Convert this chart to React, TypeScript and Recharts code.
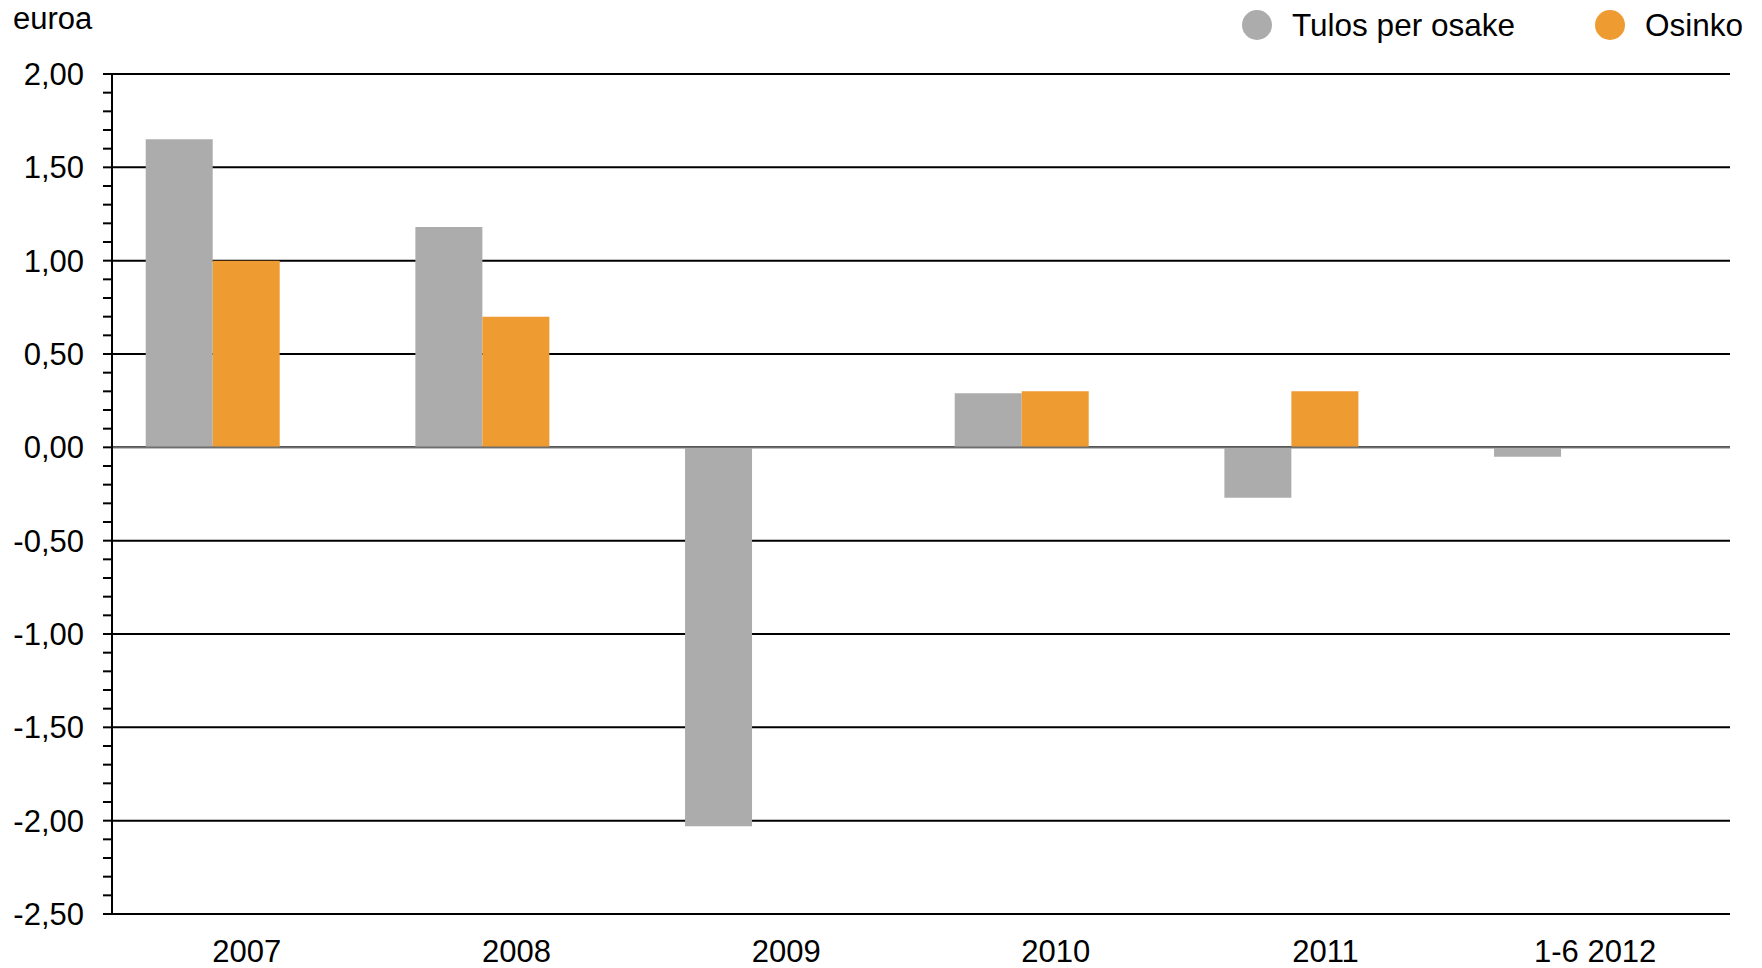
import { BarChart, Bar, XAxis, YAxis, CartesianGrid, ReferenceLine } from 'recharts';

const categories = ['2007', '2008', '2009', '2010', '2011', '1-6 2012'];
const tulosPerOsake = [1.65, 1.18, -2.03, 0.29, -0.27, -0.05];
const osinko = [1.0, 0.7, null, 0.3, 0.3, null];

const seriesNames = ['Tulos per osake', 'Osinko'];
const seriesColors = ['#ACACAC', '#EE9B31'];

const majorTicks = [2.0, 1.5, 1.0, 0.5, 0.0, -0.5, -1.0, -1.5, -2.0, -2.5];
const allTicks = [
  2.0, 1.9, 1.8, 1.7, 1.6, 1.5, 1.4, 1.3, 1.2, 1.1, 1.0, 0.9, 0.8, 0.7, 0.6, 0.5, 0.4, 0.3, 0.2, 0.1, 0.0,
  -0.1, -0.2, -0.3, -0.4, -0.5, -0.6, -0.7, -0.8, -0.9, -1.0, -1.1, -1.2, -1.3, -1.4, -1.5, -1.6, -1.7,
  -1.8, -1.9, -2.0, -2.1, -2.2, -2.3, -2.4, -2.5,
];

// the original chart leaves an empty third slot in each group, so bars sit left of centre
const data = categories.map((c, i) => ({ name: c, eps: tulosPerOsake[i], div: osinko[i], empty: null }));

const FONT = '"Liberation Sans", Arial, sans-serif';

// finnish number format: 0,50 / -1,00
const fmt = (v: number) => v.toFixed(2).replace('.', ',').replace('-0,00', '0,00');

const YTick = (props: any) => {
  const { x, y, payload } = props;
  const v = payload.value as number;
  const major = majorTicks.some((m) => Math.abs(m - v) < 1e-6);
  return (
    <g>
      <line x1={x - 9} x2={x} y1={y} y2={y} stroke="#000" strokeWidth={2} />
      {major && (
        <text x={x - 28} y={y} dy="0.355em" textAnchor="end" fontSize={31} fill="#000" fontFamily={FONT}>
          {fmt(v)}
        </text>
      )}
    </g>
  );
};

export default function App() {
  return (
    <div style={{ position: 'relative', width: 1762, height: 968, fontFamily: FONT, background: '#fff' }}>
      <style>{'body{margin:0}'}</style>
      <BarChart
        width={1762}
        height={968}
        data={data}
        margin={{ top: 74, right: 32, bottom: 0, left: 0 }}
        barCategoryGap="12.5%"
        barGap={0}
      >
        <CartesianGrid vertical={false} horizontalValues={majorTicks} stroke="#000" strokeWidth={2} />
        <XAxis
          dataKey="name"
          height={54}
          tickLine={false}
          axisLine={{ stroke: '#000', strokeWidth: 2 }}
          tickSize={0}
          tickMargin={26}
          tick={{ fontSize: 31, fill: '#000', fontFamily: FONT }}
        />
        <YAxis
          width={112}
          domain={[-2.5, 2.0]}
          ticks={allTicks}
          interval={0}
          tickLine={false}
          tickSize={0}
          tickMargin={0}
          axisLine={{ stroke: '#000', strokeWidth: 2 }}
          tick={<YTick />}
        />
        <Bar dataKey="eps" name={seriesNames[0]} fill={seriesColors[0]} isAnimationActive={false} />
        <Bar dataKey="div" name={seriesNames[1]} fill={seriesColors[1]} isAnimationActive={false} />
        <Bar dataKey="empty" fill="none" isAnimationActive={false} />
        <ReferenceLine y={0} stroke="#6e6e6e" strokeWidth={1.5} />
      </BarChart>
      <svg width={1762} height={60} style={{ position: 'absolute', left: 0, top: 0 }}>
        <text x={13} y={29} fontSize={31} fill="#000" fontFamily={FONT}>
          euroa
        </text>
        {seriesNames.map((n, i) => {
          const cx = i === 0 ? 1257 : 1610;
          return (
            <g key={n}>
              <circle cx={cx} cy={25} r={15} fill={seriesColors[i]} />
              <text x={cx + 35} y={36} fontSize={31.5} fill="#000" fontFamily={FONT}>
                {n}
              </text>
            </g>
          );
        })}
      </svg>
    </div>
  );
}
